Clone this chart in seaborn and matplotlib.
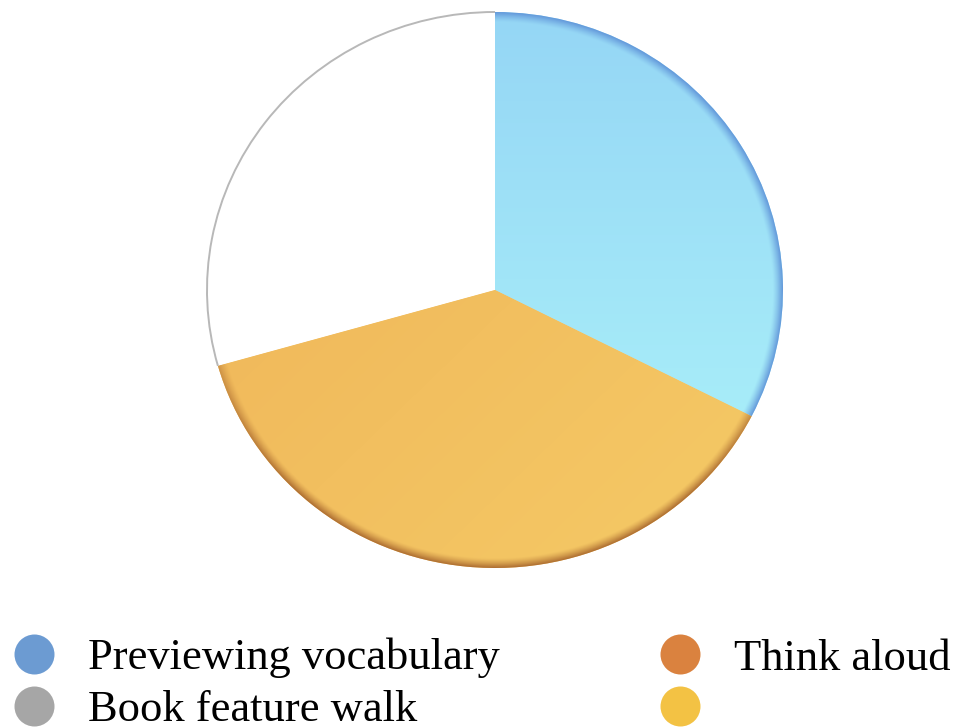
import numpy as np
import matplotlib
matplotlib.use("Agg")
import matplotlib.pyplot as plt
from matplotlib.lines import Line2D
from matplotlib.patches import Arc
from matplotlib.colors import to_rgb
import seaborn as sns

# Share of each strategy (slices drawn clockwise from 12 o'clock)
slice_labels = ["Previewing vocabulary", "Think aloud", "Book feature walk"]
slice_values = [32.5, 38.1, 29.4]

# Legend entries (two columns)
legend_labels = ["Previewing vocabulary", "Book feature walk", "Think aloud", ""]
legend_colors = ["#6c9bd2", "#a6a6a6", "#da823f", "#f3c244"]

sns.set_theme(style="white")
plt.rcParams["font.family"] = ["Liberation Serif", "DejaVu Serif"]
plt.rcParams["text.color"] = "black"

W, H = 954, 727
fig = plt.figure(figsize=(W / 100, H / 100), dpi=100)
ax = fig.add_axes([0, 0, 1, 1])

# pie geometry in pixels: centre and horizontal / vertical radius
cx, cy, rx, ry = 495, 290, 288, 278

wedges, _ = ax.pie(
    slice_values,
    colors=["#9fe2f7", "#f2bf5f", "#ffffff"],
    startangle=90,
    counterclock=False,
    radius=1,
    wedgeprops=dict(linewidth=0),
)

# shaded fills clipped to the coloured wedges
n = 700
gx, gy = np.meshgrid(np.linspace(-1, 1, n), np.linspace(-1, 1, n))
rr = np.sqrt(gx ** 2 + gy ** 2)


def lerp(a, b, t):
    a = np.array(to_rgb(a))
    b = np.array(to_rgb(b))
    return a + (b - a) * t[..., None]


rim = np.clip((rr - 0.965) / 0.035, 0, 1) ** 1.3

t_blue = np.clip((1 - gy) / 1.6, 0, 1)
blue = lerp("#95d6f5", "#a9eff9", t_blue)
blue = blue + (np.array(to_rgb("#5f93d8")) - blue) * (rim * 0.9)[..., None]

t_or = np.clip((gx - gy + 1.2) / 2.6, 0, 1)
orange = lerp("#f0b75a", "#f4c764", t_or)
w_or = np.clip(-gy * 1.1 + 0.2, 0.25, 1.0)
orange = orange + (np.array(to_rgb("#a8672e")) - orange) * (rim * w_or * 0.9)[..., None]

for wedge, img in zip(wedges[:2], [blue, orange]):
    im = ax.imshow(np.clip(img, 0, 1), extent=(-1, 1, -1, 1), origin="lower",
                   aspect="auto", interpolation="bilinear", zorder=2)
    im.set_clip_path(wedge)

# thin grey outline along the white slice
total = sum(slice_values)
theta_start = 90 - 360 * sum(slice_values[:2]) / total
theta_end = 90 - 360 * sum(slice_values) / total
ax.add_patch(Arc((0, 0), 2, 2, theta1=theta_end, theta2=theta_start + 360 if theta_start < theta_end else theta_start,
                 color="#b8b8b8", lw=1.4, zorder=3))

ax.set_aspect("auto")
ax.set_xlim(-cx / rx, (W - cx) / rx)
ax.set_ylim(-(H - cy) / ry, cy / ry)
ax.axis("off")

handles = [Line2D([], [], marker="o", linestyle="none", markersize=28.8,
                  markerfacecolor=c, markeredgewidth=0) for c in legend_colors]
fig.legend(handles, legend_labels, ncol=2, loc="upper left",
           bbox_to_anchor=(11.5 / W, 1 - 638 / H), bbox_transform=fig.transFigure,
           frameon=False, fontsize=32, handlelength=1.0, handletextpad=0.72,
           columnspacing=3.55, labelspacing=0.26, borderpad=0, borderaxespad=0)

fig.savefig("out.png", dpi=100, facecolor="white")
